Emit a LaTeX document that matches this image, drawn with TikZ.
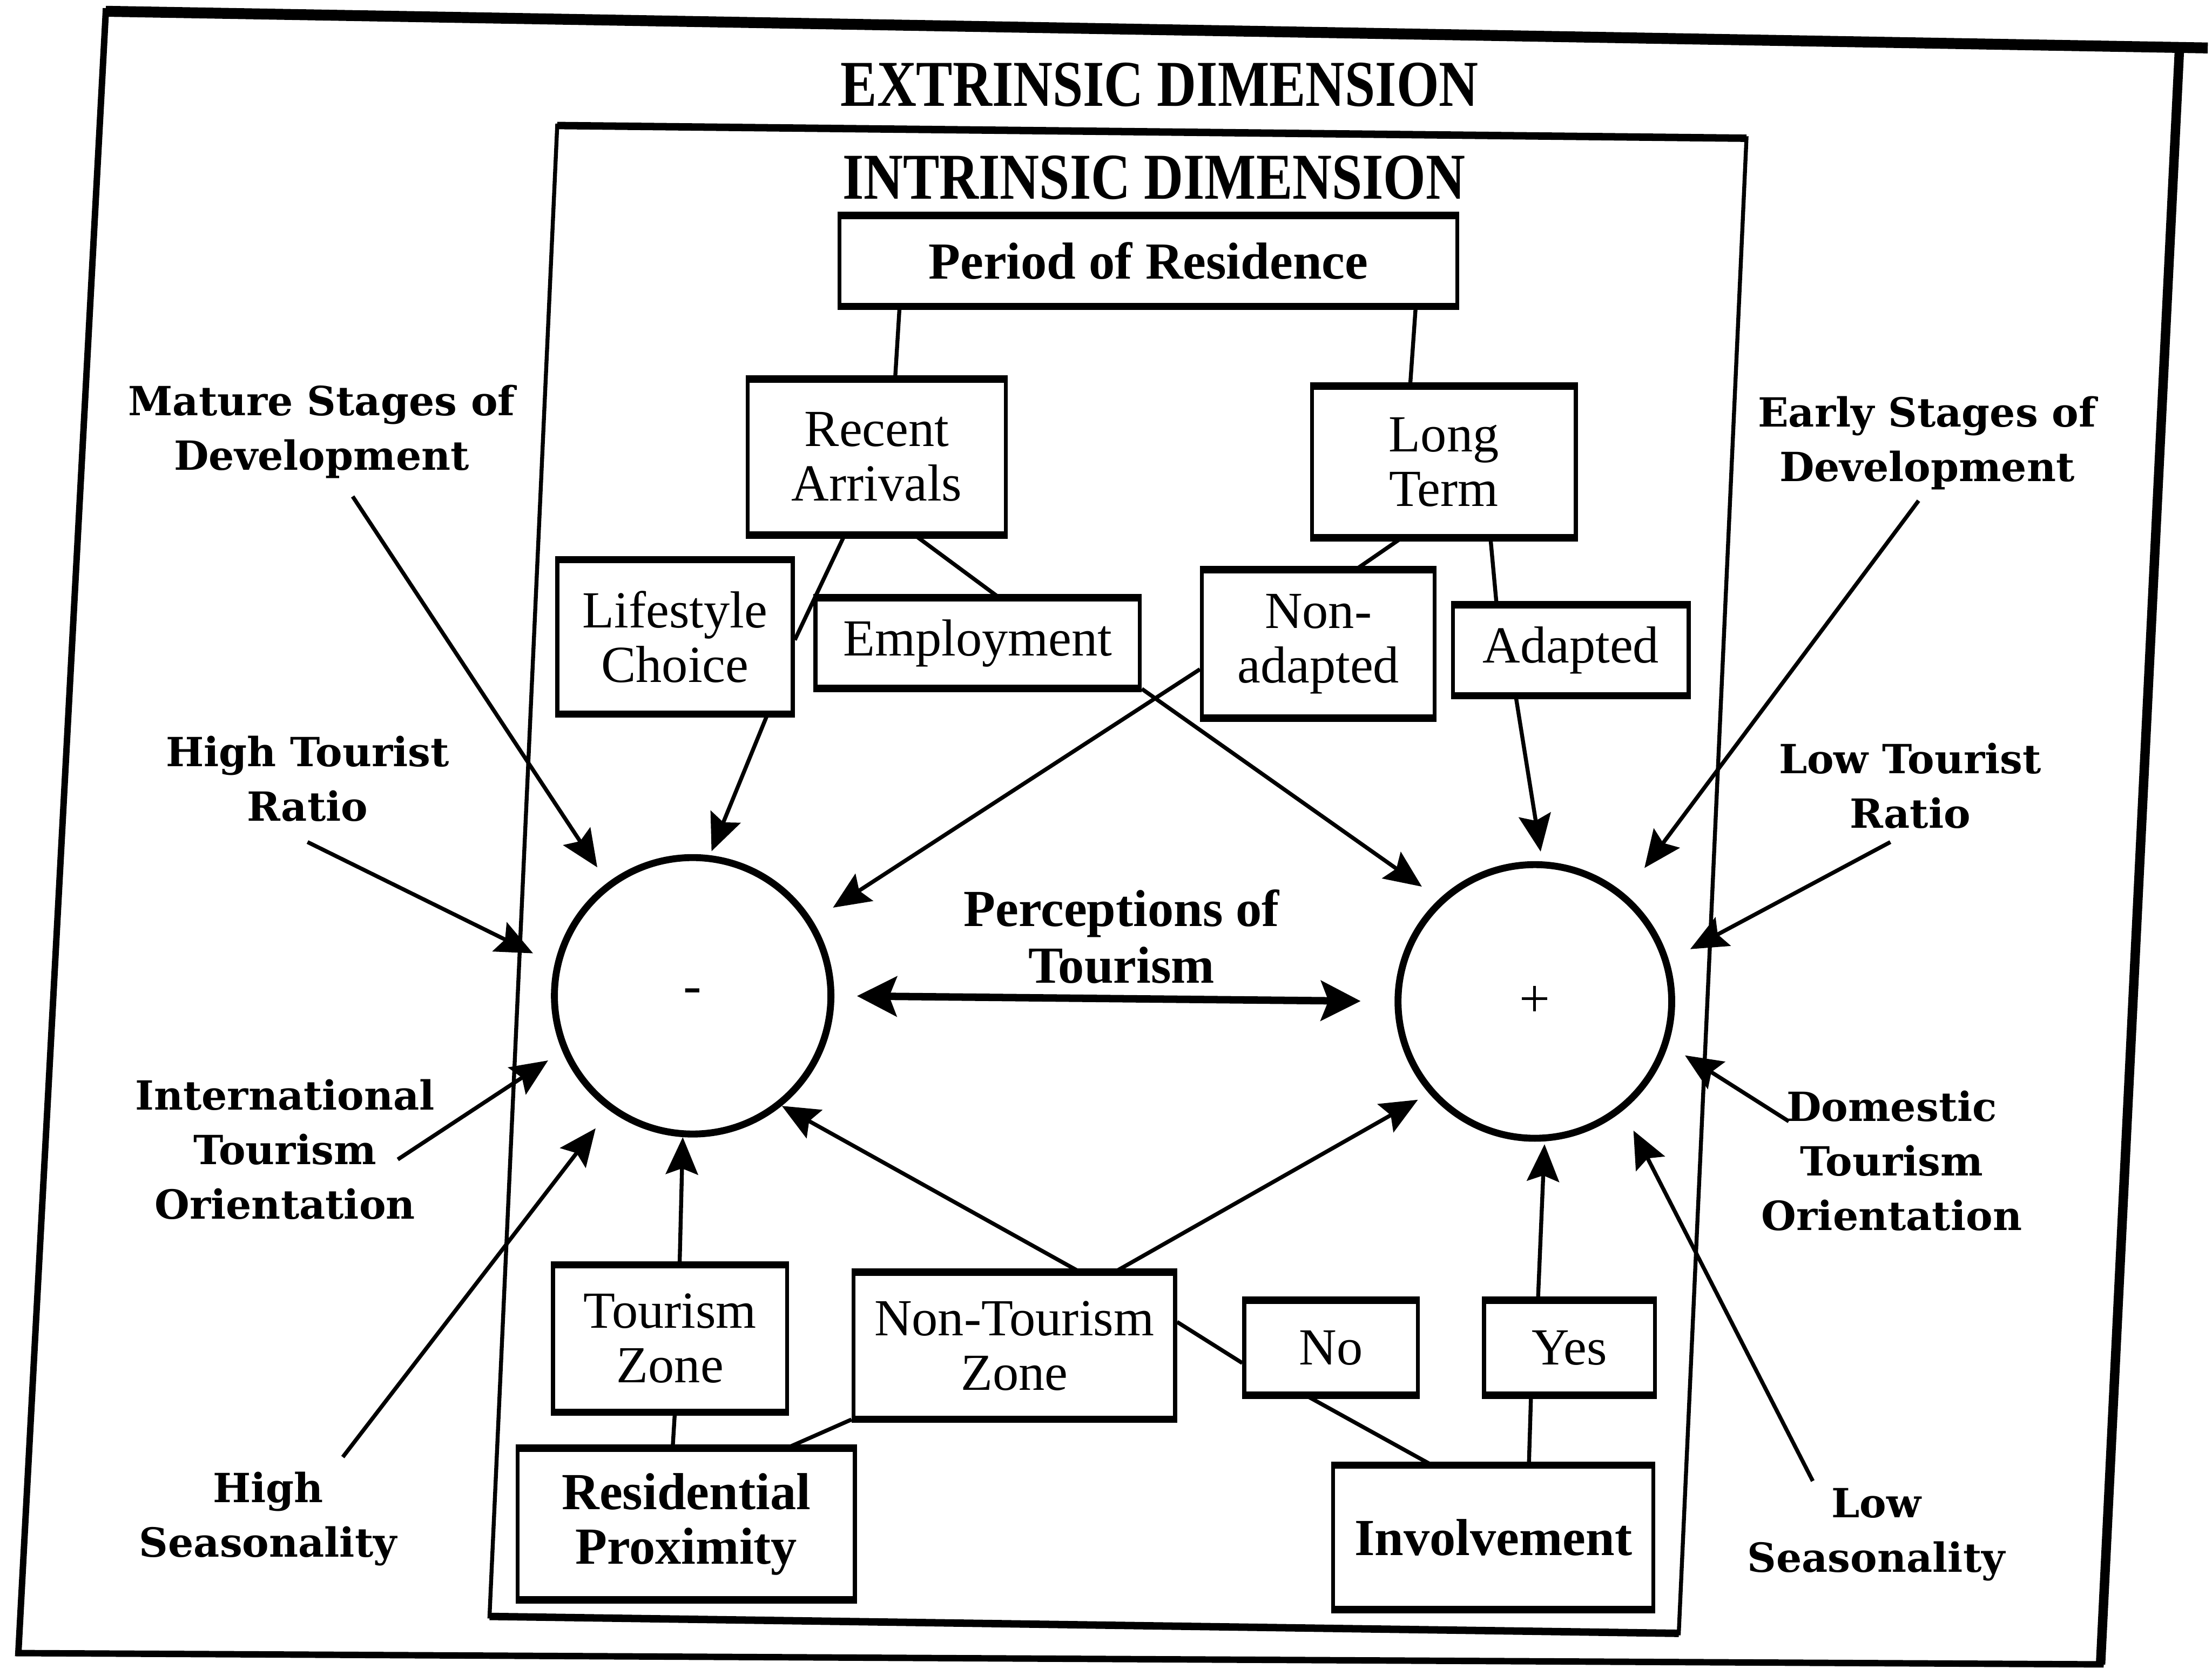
\documentclass[tikz,border=0pt]{standalone}
\usepackage{fontspec}
\usepackage{graphicx}
\setmainfont{Liberation Serif}
\newfontfamily\lblfont{DejaVu Serif}
\usetikzlibrary{arrows.meta,calc}
\begin{document}
\begin{tikzpicture}[x=0.1mm,y=-0.1mm,
  bx/.style={draw,line width=0.8pt,inner sep=0pt,align=center,font=\fontsize{10.5}{11}\selectfont},
  bxb/.style={bx,font=\fontsize{10.5}{11}\selectfont\bfseries},
  lbl/.style={align=center,inner sep=0pt,font=\lblfont\bfseries\fontsize{8.1}{11}\selectfont},
  ttl/.style={inner sep=0pt,font=\fontsize{11}{13}\selectfont\bfseries},
  conn/.style={line width=0.8pt},
  arr/.style={line width=0.8pt,-{Stealth[length=7.5pt,width=6.5pt,inset=1.2pt]}},
  dbl/.style={line width=1.5pt,{Stealth[length=8pt,width=8pt,inset=1.5pt]}-{Stealth[length=8pt,width=8pt,inset=1.5pt]}},
  circ/.style={draw,circle,line width=1.4pt,inner sep=0pt,font=\fontsize{11}{12}\selectfont},
]
\useasboundingbox (0,0) rectangle (1568,1183);
% outer frame (extrinsic)
\coordinate (oTL) at (75,8);
\coordinate (oTR) at (1545,33);
\coordinate (oTX) at (1565,34);
\coordinate (oBR) at (1489,1180);
\coordinate (oBL) at (13,1172);
\draw[line width=1.3pt] (oTL) -- (oTR) -- (oBR) -- (oBL) -- cycle;
\draw[line width=2.2pt] (oTL) -- (oTX);
\draw[line width=1.9pt] (oTR) -- (oBR);
% inner frame (intrinsic)
\coordinate (iTL) at (395,89);
\coordinate (iTR) at (1238,98);
\coordinate (iBR) at (1190,1158);
\coordinate (iBL) at (347,1146);
\draw[line width=0.8pt] (iTL) -- (iTR) -- (iBR) -- (iBL) -- cycle;
\draw[line width=1.5pt] (iTL) -- (iTR) (iBL) -- (iBR);
% titles
\node[ttl] (ext) at (822,60) {\scalebox{1}[1.2]{EXTRINSIC DIMENSION}};
\node[ttl] (intr) at (818,126) {\scalebox{1}[1.2]{INTRINSIC DIMENSION}};
% boxes
\node[bxb,minimum width=43.8mm,minimum height=6.2mm] (per) at (814,185) {Period of Residence};
\node[bx,minimum width=18.3mm,minimum height=10.8mm] (rec) at (621.5,324) {Recent\\Arrivals};
\node[bx,minimum width=18.7mm,minimum height=10.5mm] (lng) at (1023.5,327.5) {Long\\Term};
\node[bx,minimum width=16.7mm,minimum height=10.7mm] (life) at (478.5,451.5) {Lifestyle\\Choice};
\node[bx,minimum width=23mm,minimum height=6.2mm] (emp) at (693,456) {Employment};
\node[bx,minimum width=16.5mm,minimum height=10.3mm] (nona) at (934.5,456.5) {Non-\\adapted};
\node[bx,minimum width=16.7mm,minimum height=6.2mm] (adap) at (1113.5,461) {Adapted};
\node[bx,minimum width=16.6mm,minimum height=10.2mm] (tz) at (475,949) {Tourism\\Zone};
\node[bx,minimum width=22.8mm,minimum height=10.2mm] (ntz) at (719,954) {Non-Tourism\\Zone};
\node[bx,minimum width=12.3mm,minimum height=6.5mm] (no) at (943.5,955.5) {No};
\node[bx,minimum width=12.1mm,minimum height=6.5mm] (yes) at (1112.5,955.5) {Yes};
\node[bxb,minimum width=23.9mm,minimum height=10.5mm] (res) at (486.5,1080.5) {Residential\\Proximity};
\node[bxb,minimum width=22.7mm,minimum height=10mm] (inv) at (1058.5,1090) {Involvement};
\foreach \n in {per,rec,lng,life,emp,nona,adap,tz,ntz,no,yes,res,inv}
  \draw[line width=1.4pt] (\n.north west) -- (\n.north east) (\n.south west) -- (\n.south east);
% circles
\node[circ,minimum size=19.6mm] (mn) at (491,706) {-};
\node[circ,minimum size=19.4mm] (pl) at (1088,710) {+};
% centre label
\node[align=center,inner sep=0pt,font=\fontsize{10.5}{11.5}\selectfont\bfseries] (perc) at (795,664) {Perceptions of\\Tourism};
\draw[dbl,shorten <=1.6mm,shorten >=2.4mm] (mn.east) -- (pl.west);
% side labels
\node[lbl] (mat) at (228,306) {Mature Stages of\\Development};
\node[lbl] (htr) at (218,552) {High Tourist\\Ratio};
\node[lbl] (intl) at (202,815) {International\\Tourism\\Orientation};
\node[lbl] (hsea) at (190,1077) {High\\Seasonality};
\node[lbl] (early) at (1366,314) {Early Stages of\\Development};
\node[lbl] (ltr) at (1354,557) {Low Tourist\\Ratio};
\node[lbl] (dom) at (1341,823) {Domestic\\Tourism\\Orientation};
\node[lbl] (lsea) at (1330,1088) {Low\\Seasonality};
% arrow starts near the labels
\coordinate (s-mat) at (250,352);
\coordinate (s-htr) at (218,597);
\coordinate (s-intl) at (282,822);
\coordinate (s-hsea) at (243,1033);
\coordinate (s-early) at (1360,355);
\coordinate (s-ltr) at (1340,597);
\coordinate (s-dom) at (1268,795);
\coordinate (s-lsea) at (1285,1050);
% side arrows
\draw[arr,shorten >=1.3mm] (s-mat) -- (mn.127);
\draw[arr,shorten >=1.7mm] (s-htr) -- (mn.167);
\draw[arr,shorten >=1.2mm] (s-intl) -- (mn.203);
\draw[arr,shorten >=1.6mm] (s-hsea) -- (mn.234);
\draw[arr,shorten >=2.3mm] (s-early) -- (pl.50);
\draw[arr,shorten >=1.7mm] (s-ltr) -- (pl.17);
\draw[arr,shorten >=1.4mm] (s-dom) -- (pl.-18);
\draw[arr,shorten >=1.6mm] (s-lsea) -- (pl.-51);
% upper tree
\draw[conn] ($(per.south west)!0.1!(per.south east)$) -- ($(rec.north west)!0.57!(rec.north east)$);
\draw[conn] ($(per.south west)!0.93!(per.south east)$) -- ($(lng.north west)!0.374!(lng.north east)$);
\draw[conn] ($(rec.south west)!0.377!(rec.south east)$) -- ($(life.north east)!0.52!(life.south east)$);
\draw[conn] ($(rec.south west)!0.645!(rec.south east)$) -- ($(emp.north west)!0.565!(emp.north east)$);
\draw[conn] ($(lng.south west)!0.342!(lng.south east)$) -- ($(nona.north west)!0.66!(nona.north east)$);
\draw[conn] ($(lng.south west)!0.674!(lng.south east)$) -- ($(adap.north west)!0.19!(adap.north east)$);
\draw[arr,shorten >=0.3mm] ($(life.south west)!0.886!(life.south east)$) -- (mn.83);
\draw[arr,shorten >=1.7mm] ($(nona.north west)!0.67!(nona.south west)$) -- (mn.32);
\draw[arr,shorten >=1.5mm] (emp.south east) -- (pl.133);
\draw[arr,shorten >=0.7mm] ($(adap.south west)!0.27!(adap.south east)$) -- (pl.87);
% lower tree
\draw[arr] ($(tz.north west)!0.54!(tz.north east)$) -- (mn.-94);
\draw[arr] ($(ntz.north west)!0.70!(ntz.north east)$) -- (mn.-51);
\draw[arr,shorten >=0.9mm] ($(ntz.north west)!0.81!(ntz.north east)$) -- (pl.221);
\draw[arr,shorten >=0.2mm] ($(yes.north west)!0.32!(yes.north east)$) -- (pl.-86);
\draw[conn] ($(tz.south west)!0.52!(tz.south east)$) -- ($(res.north west)!0.46!(res.north east)$);
\draw[conn] (ntz.south west) -- ($(res.north west)!0.795!(res.north east)$);
\draw[conn] ($(ntz.north east)!0.34!(ntz.south east)$) -- ($(no.north west)!0.66!(no.south west)$);
\draw[conn] ($(no.south west)!0.36!(no.south east)$) -- ($(inv.north west)!0.31!(inv.north east)$);
\draw[conn] ($(yes.south west)!0.28!(yes.south east)$) -- ($(inv.north west)!0.61!(inv.north east)$);
\end{tikzpicture}
\end{document}
